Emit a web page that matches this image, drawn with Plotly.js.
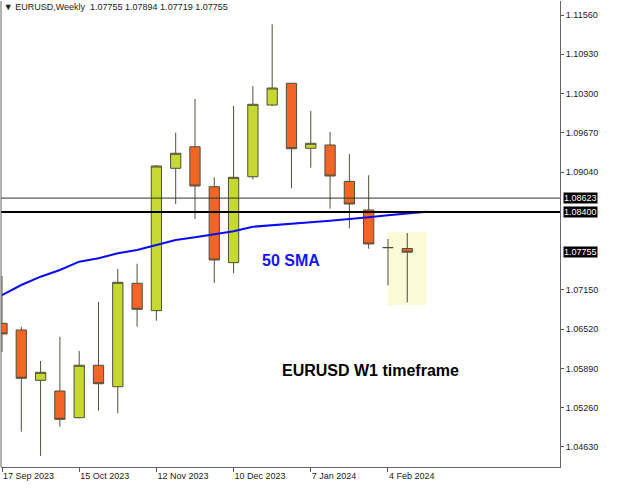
<!DOCTYPE html>
<html>
<head>
<meta charset="utf-8">
<script src="https://cdn.plot.ly/plotly-3.0.1.min.js"></script>
<style>
html,body{margin:0;padding:0;background:#fff;}
#chart{width:633px;height:488px;}
</style>
</head>
<body>
<div id="chart"></div>
<script>
// ---- data ----
const weeks = ['2023-09-17','2023-09-24','2023-10-01','2023-10-08','2023-10-15','2023-10-22','2023-10-29',
  '2023-11-05','2023-11-12','2023-11-19','2023-11-26','2023-12-03','2023-12-10','2023-12-17','2023-12-24',
  '2023-12-31','2024-01-07','2024-01-14','2024-01-21','2024-01-28','2024-02-04','2024-02-11'];
const openP  = [1.06614,1.06507,1.05700,1.05528,1.05100,1.05941,1.05597,1.07256,1.06817,1.09101,1.09447,
  1.08806,1.07587,1.08966,1.10116,1.10465,1.09422,1.09475,1.08892,1.08432,1.07827,1.07814];
const highP  = [1.07373,1.06560,1.06010,1.06399,1.06170,1.06956,1.07485,1.07570,1.09154,1.09672,1.10213,
  1.08956,1.10100,1.10421,1.11411,1.10470,1.10020,1.09683,1.09330,1.08989,1.07967,1.08063];
const lowP   = [1.06154,1.04875,1.04486,1.04956,1.05090,1.05212,1.05171,1.06560,1.06656,1.08528,1.08288,
  1.07261,1.07417,1.08924,1.10100,1.08780,1.09110,1.08453,1.08138,1.07811,1.07224,1.06951];
const closeP = [1.06443,1.05732,1.05828,1.05074,1.05941,1.05645,1.07272,1.06839,1.09138,1.09342,1.08817,
  1.07630,1.08956,1.10128,1.10389,1.09415,1.09502,1.08977,1.08528,1.07887,1.07830,1.07755];

const smaDates = weeks.concat(['2024-02-18']);
const smaValues = [1.07068,1.07229,1.07362,1.07469,1.07603,1.07657,1.07737,1.07790,1.07871,1.07951,1.07994,
  1.08039,1.08090,1.08164,1.08191,1.08212,1.08235,1.08260,1.08283,1.08315,1.08347,1.08373,1.08405];

const priceTicks = [1.04630,1.05260,1.05890,1.06520,1.07150,1.09040,1.09670,1.10300,1.10930,1.11560];
const dateTicks = ['2023-09-17','2023-10-15','2023-11-12','2023-12-10','2024-01-07','2024-02-04'];
const dateTickText = ['17 Sep 2023','15 Oct 2023','12 Nov 2023','10 Dec 2023','7 Jan 2024','4 Feb 2024'];
const levelUpper = 1.08623;
const levelMain = 1.08400;
const lastPrice = 1.07755;
const titleText = '\u25BC EURUSD,Weekly  1.07755 1.07894 1.07719 1.07755';
const smaLabel = '50 SMA';
const chartLabel = 'EURUSD W1 timeframe';
const highlight = {x0:'2024-02-04', x1:'2024-02-18', y0:1.06908, y1:1.08074};

// ---- chart ----
const FONT = 'Liberation Sans, Arial, sans-serif';
const traces = [
  {
    type:'candlestick', x:weeks, open:openP, high:highP, low:lowP, close:closeP,
    increasing:{fillcolor:'#C6D832', line:{color:'#4f4f3c', width:1}},
    decreasing:{fillcolor:'#F26524', line:{color:'#4f4f3c', width:1}},
    whiskerwidth:0, hoverinfo:'skip', showlegend:false
  },
  {
    type:'scatter', mode:'lines', x:smaDates, y:smaValues,
    line:{color:'#0a0af5', width:2}, hoverinfo:'skip', showlegend:false
  }
];

const layout = {
  width:633, height:488,
  margin:{l:1, r:73, t:1, b:21},
  paper_bgcolor:'#ffffff', plot_bgcolor:'#ffffff',
  boxgap:0.24,
  showlegend:false,
  font:{family:FONT, size:9, color:'#222'},
  title:{text:titleText, x:0.006, xanchor:'left', xref:'container', y:0.992, yanchor:'top', yref:'container',
    font:{family:FONT, size:9, color:'#222'}},
  xaxis:{
    type:'date', range:['2023-09-16 15:17','2024-04-06 09:36'],
    rangeslider:{visible:false},
    tickvals:dateTicks, ticktext:dateTickText,
    ticks:'outside', ticklen:4, tickcolor:'#555', tickwidth:1,
    ticklabelposition:'outside right',
    showgrid:false, zeroline:false,
    showline:true, linecolor:'#666', linewidth:1,
    tickfont:{family:FONT, size:9, color:'#222'}, fixedrange:true
  },
  yaxis:{
    side:'right', range:[1.04309,1.11785],
    tickvals:priceTicks, tickformat:'.5f',
    ticks:'outside', ticklen:3, tickcolor:'#555',
    showgrid:false, zeroline:false,
    showline:true, linecolor:'#666', linewidth:1,
    tickfont:{family:FONT, size:9, color:'#222'}, fixedrange:true
  },
  shapes:[
    {type:'rect', xref:'x', yref:'y', x0:highlight.x0, x1:highlight.x1, y0:highlight.y0, y1:highlight.y1,
      fillcolor:'#FAFAD6', line:{width:0}, layer:'below'},
    {type:'line', xref:'paper', yref:'y', x0:0, x1:1, y0:levelUpper, y1:levelUpper, line:{color:'#333', width:1}},
    {type:'line', xref:'paper', yref:'y', x0:0, x1:1, y0:levelMain, y1:levelMain, line:{color:'#000', width:2}},
    {type:'line', xref:'paper', yref:'paper', x0:0, x1:0, y0:0, y1:1, line:{color:'#666', width:1}}
  ],
  annotations:[
    {xref:'paper', yref:'y', x:1, y:levelUpper, xanchor:'left', yanchor:'middle', xshift:3, yshift:0,
      text:levelUpper.toFixed(5), showarrow:false, bgcolor:'#000', borderpad:0, font:{family:FONT, size:9, color:'#fff'}},
    {xref:'paper', yref:'y', x:1, y:levelMain, xanchor:'left', yanchor:'middle', xshift:3,
      text:levelMain.toFixed(5), showarrow:false, bgcolor:'#000', borderpad:0, font:{family:FONT, size:9, color:'#fff'}},
    {xref:'paper', yref:'y', x:1, y:lastPrice, xanchor:'left', yanchor:'middle', xshift:3,
      text:lastPrice.toFixed(5), showarrow:false, bgcolor:'#000', borderpad:0, font:{family:FONT, size:9, color:'#fff'}},
    {xref:'x', yref:'y', x:'2023-12-31', y:1.07619, xanchor:'center', yanchor:'middle',
      text:'<b>'+smaLabel+'</b>', showarrow:false, font:{family:FONT, size:16, color:'#1414f0'}},
    {xref:'x', yref:'y', x:'2024-01-28 12:00', y:1.05865, xanchor:'center', yanchor:'middle',
      text:'<b>'+chartLabel+'</b>', showarrow:false, font:{family:FONT, size:16, color:'#000'}}
  ]
};

Plotly.newPlot('chart', traces, layout, {displayModeBar:false, staticPlot:true});
</script>
</body>
</html>
